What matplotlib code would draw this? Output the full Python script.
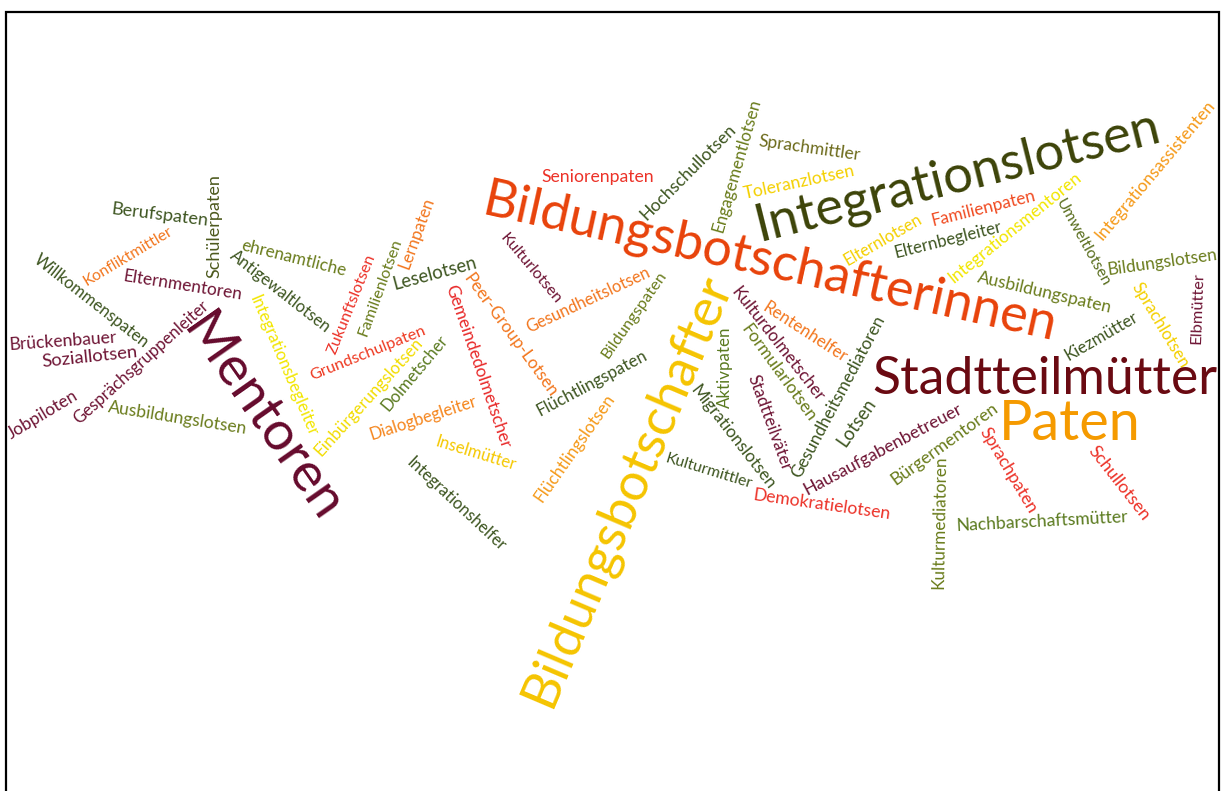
import matplotlib
matplotlib.use("Agg")
import matplotlib.pyplot as plt
from matplotlib.font_manager import FontProperties
from matplotlib.textpath import TextPath

# words of the cloud
words = [
    "Berufspaten", "Schülerpaten", "Konfliktmittler", "Willkommenspaten",
    "Elternmentoren", "Brückenbauer", "Soziallotsen", "Gesprächsgruppenleiter",
    "Jobpiloten", "Ausbildungslotsen", "Mentoren", "ehrenamtliche",
    "Antigewaltlotsen", "Integrationsbegleiter", "Zukunftslotsen", "Familienlotsen",
    "Lernpaten", "Leselotsen", "Grundschulpaten", "Einbürgerungslotsen",
    "Dolmetscher", "Dialogbegleiter", "Inselmütter", "Integrationshelfer",
    "Peer-Group-Lotsen", "Gemeindedolmetscher", "Kulturlotsen", "Seniorenpaten",
    "Bildungsbotschafterinnen", "Hochschullotsen", "Engagementlotsen", "Sprachmittler",
    "Toleranzlotsen", "Integrationslotsen", "Familienpaten", "Elternlotsen",
    "Elternbegleiter", "Integrationsmentoren", "Umweltlotsen", "Integrationsassistenten",
    "Bildungslotsen", "Ausbildungspaten", "Sprachlotsen", "Elbmütter",
    "Kiezmütter", "Stadtteilmütter", "Paten", "Hausaufgabenbetreuer",
    "Bürgermentoren", "Sprachpaten", "Schullotsen", "Kulturmediatoren",
    "Nachbarschaftsmütter", "Demokratielotsen", "Rentenhelfer", "Kulturdolmetscher",
    "Aktivpaten", "Formularlotsen", "Stadtteilväter", "Gesundheitsmediatoren",
    "Lotsen", "Migrationslotsen", "Kulturmittler", "Flüchtlingspaten",
    "Flüchtlingslotsen", "Bildungsbotschafter", "Gesundheitslotsen", "Bildungspaten",
]

# colours
MAROON = "#6e1434"
DGREEN = "#3d5520"
OLIVE = "#6a7c1c"
RED = "#ec3228"
ORANGE = "#f2761e"
LORANGE = "#f59a1a"
YELLOW = "#f4d000"
BYELLOW = "#f2e600"

# layout: centre x, centre y (pixels), angle, length in pixels, colour
layout = [
    (160, 215, -7, 95, DGREEN),
    (214, 226, 90, 102, "#4d5a1e"),
    (128, 256, 31, 100, ORANGE),
    (91, 301, -38, 140, DGREEN),
    (183, 285, -9, 117, MAROON),
    (63, 341, 4, 106, MAROON),
    (90, 357, 6, 94, MAROON),
    (141, 362, 42, 175, MAROON),
    (43, 415, 31, 78, MAROON),
    (178, 418, -9, 139, OLIVE),
    (262, 418, -55, 230, "#650a2c"),
    (294, 258, -14, 106, OLIVE),
    (280, 292, -38, 122, DGREEN),
    (283, 366, -67, 150, BYELLOW),
    (352, 304, 68, 105, RED),
    (380, 287, 70, 100, OLIVE),
    (417, 233, 70, 72, ORANGE),
    (435, 273, 15, 84, DGREEN),
    (368, 353, 22, 122, "#ee3a22"),
    (369, 397, 48, 150, "#f2dc00"),
    (415, 373, 50, 92, "#5a7a20"),
    (423, 418, 18, 110, "#f5861e"),
    (476, 453, -17, 82, "#f5c800"),
    (456, 504, -43, 128, DGREEN),
    (510, 335, -54, 145, ORANGE),
    (478, 367, -71, 170, "#e82a2a"),
    (531, 269, -50, 85, MAROON),
    (598, 177, 0, 111, RED),
    (770, 263, -12.5, 578, "#e8420a"),
    (688, 172, 45, 125, DGREEN),
    (737, 165, 74, 135, OLIVE),
    (809, 148, -8, 102, "#6c6a1a"),
    (799, 182, 12, 112, YELLOW),
    (957, 177, 14, 408, "#3c4308"),
    (983, 208, 14, 104, "#f04a20"),
    (883, 240, 30, 85, YELLOW),
    (948, 240, 14, 108, DGREEN),
    (1015, 228, 39, 163, BYELLOW),
    (1083, 243, -61, 95, "#5a6e1e"),
    (1155, 170, 50, 175, LORANGE),
    (1162, 262, 8, 108, OLIVE),
    (1045, 293, -13, 136, OLIVE),
    (1160, 325, -59, 95, YELLOW),
    (1198, 308, 88, 70, MAROON),
    (1101, 336, 30, 80, DGREEN),
    (1045, 380, 0, 343, "#6a0a12"),
    (1070, 425, 0, 133, "#f59a00"),
    (883, 449, 28, 175, MAROON),
    (945, 444, 36, 125, OLIVE),
    (1008, 470, -59, 95, RED),
    (1119, 483, -52, 88, RED),
    (940, 522, 89, 130, OLIVE),
    (1042, 522, 3, 170, "#5a7a1e"),
    (822, 505, -8, 136, RED),
    (805, 332, -33, 95, ORANGE),
    (778, 344, -52, 138, MAROON),
    (725, 367, 90, 80, "#5a7a20"),
    (778, 373, -54, 113, OLIVE),
    (769, 423, -70, 100, MAROON),
    (838, 397, 62, 180, DGREEN),
    (856, 422, 55, 52, DGREEN),
    (733, 437, -52, 125, DGREEN),
    (709, 471, -17, 88, DGREEN),
    (592, 383, 28, 120, DGREEN),
    (575, 448, 55, 125, LORANGE),
    (627, 490, 67, 458, "#f5c400"),
    (588, 300, 25, 133, ORANGE),
    (634, 315, 55, 100, OLIVE),
]

DPI = 100
fig = plt.figure(figsize=(12.21, 7.91), dpi=DPI)
ax = fig.add_axes([0, 0, 1, 1])
ax.set_xlim(0, 1221)
ax.set_ylim(791, 0)
ax.axis("off")

# frame (no bottom edge in the original)
ax.plot([6, 6, 1219, 1219], [791, 12, 12, 791], color="black", lw=1.6,
        solid_joinstyle="miter")

fp = FontProperties(family="Lato")
for w, (x, y, ang, span, col) in zip(words, layout):
    w10 = TextPath((0, 0), w, size=10, prop=fp).get_extents().width
    size = span * 72 / DPI * 10 / w10
    ax.text(x, y, w, fontproperties=fp, fontsize=size, color=col,
            rotation=ang, rotation_mode="anchor", ha="center", va="center")

fig.savefig("out.png", dpi=DPI)
